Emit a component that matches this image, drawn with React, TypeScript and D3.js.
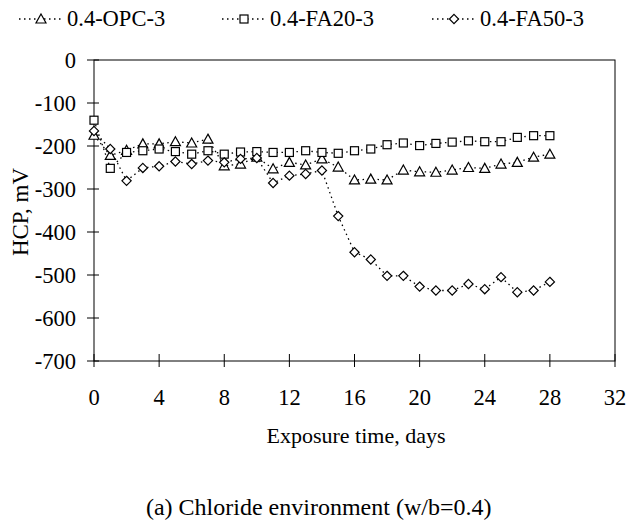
import React, { useEffect, useRef } from "react";
import * as d3 from "d3";

const days = [0, 1, 2, 3, 4, 5, 6, 7, 8, 9, 10, 11, 12, 13, 14, 15, 16, 17, 18, 19, 20, 21, 22, 23, 24, 25, 26, 27, 28];

const opc = [-175, -222, -210, -195, -195, -190, -193, -184, -246, -242, -226, -253, -238, -244, -230, -249, -279, -277, -279, -256, -260, -261, -256, -250, -252, -242, -238, -226, -219];
const fa20 = [-140, -252, -215, -211, -207, -213, -219, -211, -219, -214, -213, -215, -215, -211, -215, -217, -211, -207, -197, -193, -199, -194, -191, -188, -190, -190, -180, -176, -176];
const fa50 = [-165, -207, -281, -251, -247, -236, -242, -234, -238, -230, -228, -286, -269, -265, -257, -363, -447, -464, -502, -502, -527, -536, -536, -521, -533, -505, -540, -536, -516];

const seriesNames = ["0.4-OPC-3", "0.4-FA20-3", "0.4-FA50-3"];
const yTicks = [0, -100, -200, -300, -400, -500, -600, -700];
const xTicks = [0, 4, 8, 12, 16, 20, 24, 28, 32];

const font = "Liberation Serif, Times New Roman, serif";

function marker(g, kind, x, y) {
  if (kind === 0) {
    const s = 5;
    g.append("path")
      .attr("d", `M${x},${y - s} L${x + s},${y + s * 0.8} L${x - s},${y + s * 0.8} Z`)
      .attr("fill", "white").attr("stroke", "black").attr("stroke-width", 1.2);
  } else if (kind === 1) {
    const s = 4;
    g.append("rect")
      .attr("x", x - s).attr("y", y - s).attr("width", 2 * s).attr("height", 2 * s)
      .attr("fill", "white").attr("stroke", "black").attr("stroke-width", 1.2);
  } else {
    const s = 4.6;
    g.append("path")
      .attr("d", `M${x},${y - s} L${x + s},${y} L${x},${y + s} L${x - s},${y} Z`)
      .attr("fill", "white").attr("stroke", "black").attr("stroke-width", 1.2);
  }
}

const App = () => {
  const ref = useRef(null);

  useEffect(() => {
    const svg = d3.select(ref.current);
    svg.selectAll("*").remove();
    svg.style("font-family", font);

    const x = d3.scaleLinear().domain([0, 32]).range([94, 615]);
    const y = d3.scaleLinear().domain([-700, 0]).range([361, 60]);

    // frame
    svg.append("rect")
      .attr("x", x(0)).attr("y", y(0))
      .attr("width", x(32) - x(0)).attr("height", y(-700) - y(0))
      .attr("fill", "none").attr("stroke", "black").attr("stroke-width", 1);

    // y ticks
    const yg = svg.append("g");
    yTicks.forEach((t) => {
      yg.append("line").attr("x1", x(0) - 7).attr("x2", x(0) + 5)
        .attr("y1", y(t)).attr("y2", y(t)).attr("stroke", "black");
      yg.append("text").attr("x", 76).attr("y", y(t) + 8)
        .attr("text-anchor", "end").attr("font-size", 22.5)
        .text(t === 0 ? "0" : "-" + Math.abs(t));
    });

    // x ticks
    const xg = svg.append("g");
    xTicks.forEach((t) => {
      xg.append("line").attr("x1", x(t)).attr("x2", x(t))
        .attr("y1", y(-700) - 7).attr("y2", y(-700) + 6).attr("stroke", "black");
      xg.append("text").attr("x", x(t)).attr("y", 405)
        .attr("text-anchor", "middle").attr("font-size", 22.5)
        .text(t);
    });

    svg.append("text").attr("transform", "translate(28,212) rotate(-90)")
      .attr("text-anchor", "middle").attr("font-size", 23)
      .text("HCP, mV");
    svg.append("text").attr("x", 356).attr("y", 443)
      .attr("text-anchor", "middle").attr("font-size", 22)
      .text("Exposure time, days");
    svg.append("text").attr("x", 318.7).attr("y", 515)
      .attr("text-anchor", "middle").attr("font-size", 24)
      .text("(a) Chloride environment (w/b=0.4)");

    const all = [opc, fa20, fa50];
    const line = d3.line().x((d, i) => x(days[i])).y((d) => y(d));
    all.forEach((vals) => {
      svg.append("path").datum(vals).attr("d", line)
        .attr("fill", "none").attr("stroke", "black").attr("stroke-width", 1.3)
        .attr("stroke-dasharray", "1.5,3.5");
    });
    all.forEach((vals, k) => {
      const g = svg.append("g");
      vals.forEach((v, i) => marker(g, k, x(days[i]), y(v)));
    });

    // legend
    const legX = [19, 222, 432];
    seriesNames.forEach((name, k) => {
      const lx = legX[k];
      svg.append("line").attr("x1", lx).attr("x2", lx + 42).attr("y1", 19).attr("y2", 19)
        .attr("stroke", "black").attr("stroke-width", 1.3).attr("stroke-dasharray", "1.5,3.5");
      const lg = svg.append("g");
      marker(lg, k, lx + 22, 19);
      svg.append("text").attr("x", lx + 48).attr("y", 26)
        .attr("font-size", 22.5).text(name);
    });
  }, []);

  return (
    <svg ref={ref} width={627} height={525}
      style={{ position: "absolute", left: 0, top: 0, display: "block" }}></svg>
  );
};

export default App;
